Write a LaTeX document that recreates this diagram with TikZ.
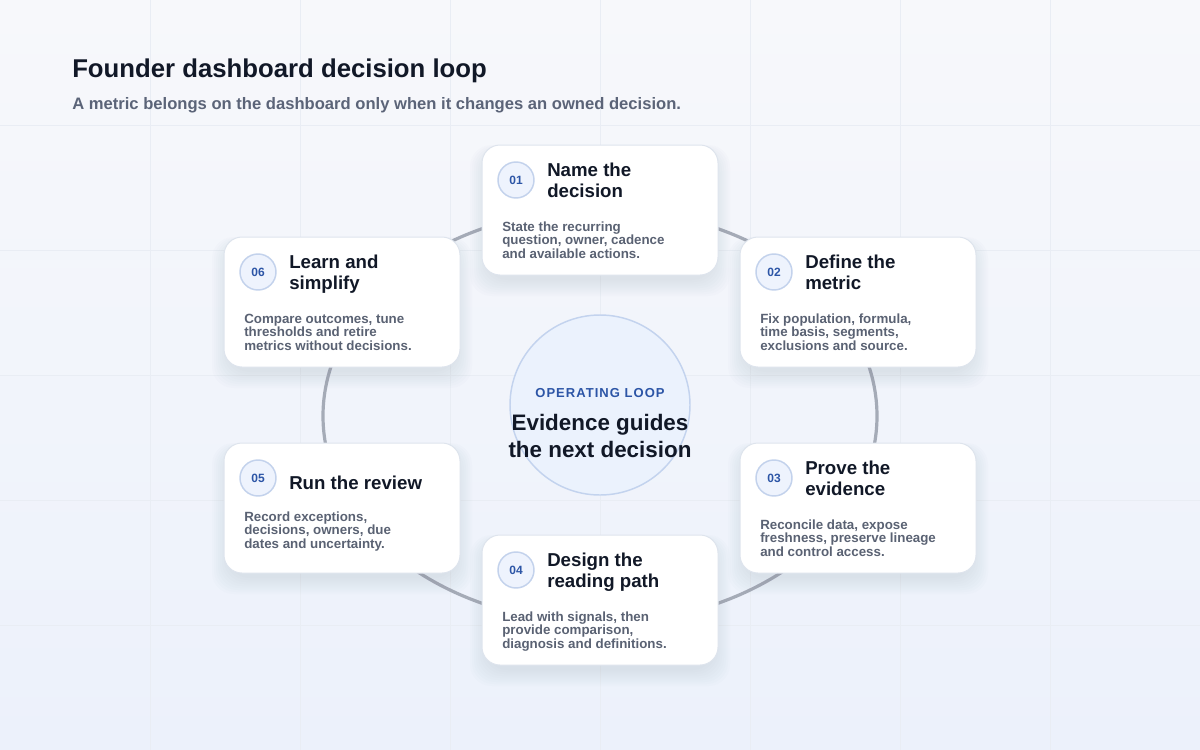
\documentclass[tikz,border=0pt]{standalone}
\usepackage{fontspec}
\setmainfont{Liberation Sans}
\usetikzlibrary{calc}
\lineskiplimit=-20pt
\definecolor{bgtop}{HTML}{F7F8FB}
\definecolor{bgbot}{HTML}{ECF1FB}
\definecolor{gridc}{HTML}{E9EDF4}
\definecolor{ink}{HTML}{111827}
\definecolor{subc}{HTML}{5B6478}
\definecolor{bodyc}{HTML}{5A6273}
\definecolor{cardline}{HTML}{DEE4ED}
\definecolor{badgefill}{HTML}{EEF3FD}
\definecolor{badgeline}{HTML}{C3D2EC}
\definecolor{blueink}{HTML}{2C55A6}
\definecolor{loopc}{HTML}{A5ABB7}
\definecolor{hubfill}{HTML}{EBF2FD}
\definecolor{hubline}{HTML}{C3D3EE}
\definecolor{shadowc}{HTML}{7F8DAA}
\newcommand\mkcard[8]{%
  \foreach \k in {0,2,...,16}{%
    \fill[cardshadow] (#2+4-\k,#3+8-0.5*\k) rectangle (#2+232+\k,#3+130+5+\k);}
  \node[card] (c#1) at (#2+118,#3+65) {};
  \node[badge] (n#1) at (#2+34,#3+35) {#4};
  \node[cardtitle] (t#1) at (#2+65,#3+#7) {#5};
  \node[cardbody] (b#1) at (#2+20,#3+#8) {#6};
}
\begin{document}
\begin{tikzpicture}[x=0.75pt,y=-0.75pt,
  gridline/.style={draw=gridc,line width=0.75pt},
  loopline/.style={draw=loopc,line width=2.4pt},
  cardshadow/.style={fill=shadowc,opacity=0.02,rounded corners=16pt},
  card/.style={draw=cardline,line width=0.75pt,fill=white,rounded corners=13.5pt,
    minimum width=177pt,minimum height=97.5pt,inner sep=0pt},
  badge/.style={circle,draw=badgeline,line width=1.1pt,fill=badgefill,minimum size=27pt,inner sep=0pt,
    text=blueink,font=\bfseries\fontsize{9}{10}\selectfont},
  cardtitle/.style={anchor=base west,inner sep=0pt,align=left,text=ink,
    font=\bfseries\fontsize{14}{15.75}\selectfont},
  cardbody/.style={anchor=base west,inner sep=0pt,align=left,text=bodyc,
    font=\bfseries\fontsize{10}{9.9}\selectfont},
  hub/.style={circle,draw=hubline,line width=1.1pt,fill=hubfill,minimum size=135pt,inner sep=0pt}]
\shade[top color=bgtop,bottom color=bgbot] (0,0) rectangle (1200,750);
\useasboundingbox (0,0) rectangle (1200,750);
\foreach \gx in {150,300,...,1050} \draw[gridline] (\gx,0) -- (\gx,750);
\foreach \gy in {125,250,...,625} \draw[gridline] (0,\gy) -- (1200,\gy);

\node[anchor=base west,inner sep=0pt,text=ink,font=\bfseries\fontsize{19.3}{23}\selectfont] (title) at (72,77) {Founder dashboard decision loop};
\node[anchor=base west,inner sep=0pt,text=subc,font=\bfseries\fontsize{12.45}{14}\selectfont] (subtitle) at (72,109) {A metric belongs on the dashboard only when it changes an owned decision.};

% loop ring
\coordinate (ctr) at (600,416);
\coordinate (e1) at ($(ctr)+(90:207.75pt and 155.25pt)$);
\coordinate (e2) at ($(ctr)+(30:207.75pt and 155.25pt)$);
\coordinate (e3) at ($(ctr)+(-30:207.75pt and 155.25pt)$);
\coordinate (e4) at ($(ctr)+(-90:207.75pt and 155.25pt)$);
\coordinate (e5) at ($(ctr)+(-150:207.75pt and 155.25pt)$);
\coordinate (e6) at ($(ctr)+(150:207.75pt and 155.25pt)$);
\draw[loopline] (e1) arc[start angle=90,end angle=30,x radius=207.75pt,y radius=155.25pt];
\draw[loopline] (e2) arc[start angle=30,end angle=-30,x radius=207.75pt,y radius=155.25pt];
\draw[loopline] (e3) arc[start angle=-30,end angle=-90,x radius=207.75pt,y radius=155.25pt];
\draw[loopline] (e4) arc[start angle=-90,end angle=-150,x radius=207.75pt,y radius=155.25pt];
\draw[loopline] (e5) arc[start angle=-150,end angle=-210,x radius=207.75pt,y radius=155.25pt];
\draw[loopline] (e6) arc[start angle=150,end angle=90,x radius=207.75pt,y radius=155.25pt];

\mkcard{1}{482}{145}{01}{Name the\\decision}{State the recurring\\question, owner, cadence\\and available actions.}{52}{113}
\mkcard{2}{740}{237}{02}{Define the\\metric}{Fix population, formula,\\time basis, segments,\\exclusions and source.}{52}{113}
\mkcard{3}{740}{443}{03}{Prove the\\evidence}{Reconcile data, expose\\freshness, preserve lineage\\and control access.}{52}{113}
\mkcard{4}{482}{535}{04}{Design the\\reading path}{Lead with signals, then\\provide comparison,\\diagnosis and definitions.}{52}{113}
\mkcard{5}{224}{443}{05}{Run the review}{Record exceptions,\\decisions, owners, due\\dates and uncertainty.}{46}{105}
\mkcard{6}{224}{237}{06}{Learn and\\simplify}{Compare outcomes, tune\\thresholds and retire\\metrics without decisions.}{52}{113}

\node[hub] (hub) at (600,405) {};
\node[anchor=base,inner sep=0pt,text=blueink,font=\bfseries\fontsize{9.75}{11}\selectfont\addfontfeature{LetterSpace=8}] (hublabel) at (600,397) {OPERATING LOOP};
\node[anchor=base,inner sep=0pt,align=center,text=ink,font=\bfseries\fontsize{16.8}{20}\selectfont] (hubtext) at (600,457) {Evidence guides\\the next decision};
\end{tikzpicture}
\end{document}
